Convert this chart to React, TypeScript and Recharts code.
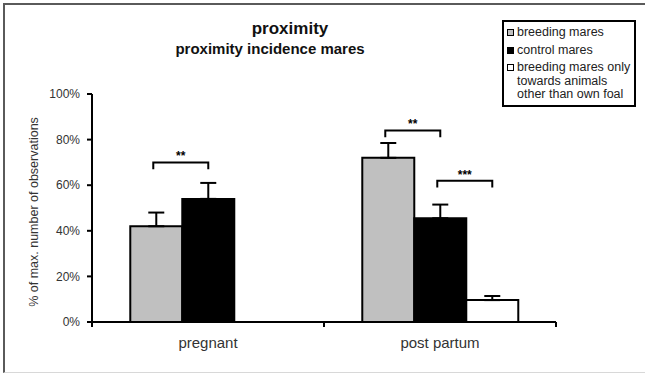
import React from 'react';
import { BarChart, Bar, XAxis, YAxis, ErrorBar, Legend, LabelList } from 'recharts';

const categories = ['pregnant', 'post partum'];
const breedingValues = [42, 72];
const breedingErrors = [6, 6.5];
const controlValues = [54, 45.5];
const controlErrors = [7, 6];
const otherValues: (number | null)[] = [null, 9.6];
const otherErrors: (number | null)[] = [null, 1.8];
const yTicks = [0, 20, 40, 60, 80, 100];

// significance brackets: category, left series of the compared pair, level (%), label
const bracketCategory = ['pregnant', 'post partum', 'post partum'];
const bracketSeries = ['breeding', 'breeding', 'control'];
const bracketLevel = [70, 84, 62];
const bracketLabel = ['**', '**', '***'];

const seriesNames = ['breeding mares', 'control mares', 'breeding mares only towards animals other than own foal'];
const legendLines = [['breeding mares'], ['control mares'], ['breeding mares only', 'towards animals', 'other than own foal']];
const seriesFills = ['#c0c0c0', '#000000', '#ffffff'];

const data = categories.map((c, i) => ({
  name: c,
  breeding: breedingValues[i],
  breedingErr: [0, breedingErrors[i]],
  control: controlValues[i],
  controlErr: [0, controlErrors[i]],
  other: otherValues[i],
  otherErr: otherErrors[i] == null ? null : [0, otherErrors[i] as number],
}));

const FONT = '"Liberation Sans", Arial, Helvetica, sans-serif';
const X_TICK_SIZE = 5;
const X_TICK_MARGIN = 10;

function makeBracket(series: string) {
  return (props: any) => {
    const { x, y, width, height, value, index } = props;
    const cat = categories[index];
    const items = bracketCategory
      .map((c, k) => ({ c, k }))
      .filter(({ c, k }) => c === cat && bracketSeries[k] === series);
    if (!items.length || value == null || !value) return null;
    const pxPerUnit = height / value;
    const base = y + height;
    return (
      <g>
        {items.map(({ k }) => {
          const ly = base - bracketLevel[k] * pxPerUnit;
          const x1 = x + width / 2 - 3;
          const x2 = x + width * 1.5;
          const drop = 3 * pxPerUnit;
          return (
            <g key={k}>
              <path d={`M${x1},${ly + drop} L${x1},${ly} L${x2},${ly} L${x2},${ly + drop}`} stroke="#000" strokeWidth={2} fill="none" />
              <text x={(x1 + x2) / 2} y={ly - 2} textAnchor="middle" fontFamily={FONT} fontSize={12} fontWeight="bold" fill="#000">
                {bracketLabel[k]}
              </text>
            </g>
          );
        })}
      </g>
    );
  };
}

const XTick = (props: any) => {
  const { x, y, payload, index, visibleTicksCount } = props;
  const half = payload?.offset ?? 0;
  const axisY = y - X_TICK_SIZE - X_TICK_MARGIN;
  const isLast = index === visibleTicksCount - 1;
  return (
    <g>
      <line x1={x - half} x2={x - half} y1={axisY} y2={axisY + X_TICK_SIZE} stroke="#000" strokeWidth={2} />
      {isLast && (
        <line x1={x + half} x2={x + half} y1={axisY} y2={axisY + X_TICK_SIZE} stroke="#000" strokeWidth={2} />
      )}
      <text x={x} y={y} dy="0.71em" textAnchor="middle" fontFamily={FONT} fontSize={15} fill="#333">
        {payload.value}
      </text>
    </g>
  );
};

const LegendBox = () => (
  <div
    style={{
      border: '2px solid #000',
      background: '#fff',
      padding: '4px 3px 3px 3px',
      fontFamily: FONT,
      fontSize: 12.5,
      color: '#222',
      boxSizing: 'border-box',
      width: 134,
    }}
  >
    {legendLines.map((lines, i) => (
      <div key={i} style={{ display: 'flex', alignItems: 'flex-start', marginBottom: i < legendLines.length - 1 ? 4 : 0 }} title={seriesNames[i]}>
        <span
          style={{
            display: 'inline-block',
            width: 7,
            height: 7,
            boxSizing: 'border-box',
            border: '1.5px solid #000',
            background: seriesFills[i],
            marginTop: 3,
            marginRight: 3,
            flex: '0 0 auto',
          }}
        />
        <span style={{ lineHeight: '13.5px', whiteSpace: 'nowrap' }}>
          {lines.map((l, j) => (
            <div key={j}>{l}</div>
          ))}
        </span>
      </div>
    ))}
  </div>
);

const YLabel = (props: any) => {
  const vb = props.viewBox || {};
  const cx = 34;
  const cy = vb.y + vb.height / 2 + 4;
  return (
    <text x={cx} y={cy} transform={`rotate(-90, ${cx}, ${cy})`} textAnchor="middle" dominantBaseline="central" fontFamily={FONT} fontSize={12.5} fill="#333">
      % of max. number of observations
    </text>
  );
};

export default function App() {
  return (
    <div style={{ position: 'absolute', left: 0, top: 0, width: 645, height: 373, background: '#fff' }}>
      <div
        style={{
          position: 'absolute',
          left: 3,
          top: 3,
          width: 640,
          height: 367,
          borderLeft: '2px solid #5a5a5a',
          borderTop: '2px solid #5a5a5a',
          borderBottom: '1px solid #d8d8d8',
        }}
      />
      <div style={{ position: 'absolute', left: 190, width: 200, top: 19, textAlign: 'center', fontFamily: FONT, fontWeight: 'bold', fontSize: 17, color: '#111' }}>
        proximity
      </div>
      <div style={{ position: 'absolute', left: 120, width: 300, top: 40, textAlign: 'center', fontFamily: FONT, fontWeight: 'bold', fontSize: 15, color: '#111' }}>
        proximity incidence mares
      </div>
      <div style={{ position: 'absolute', left: 0, top: 0 }}>
        <BarChart
          width={645}
          height={373}
          data={data}
          margin={{ top: 94, right: 89, bottom: 21, left: 0 }}
          barCategoryGap="16.5%"
          barGap={0}
        >
          <XAxis
            dataKey="name"
            height={30}
            axisLine={{ stroke: '#000', strokeWidth: 2 }}
            tickLine={false}
            tickSize={X_TICK_SIZE}
            tickMargin={X_TICK_MARGIN}
            tick={<XTick />}
          />
          <YAxis
            width={92}
            domain={[0, 100]}
            ticks={yTicks}
            tickFormatter={(v: number) => `${v}%`}
            tickSize={5}
            tickMargin={7}
            axisLine={{ stroke: '#000', strokeWidth: 2 }}
            tickLine={{ stroke: '#000', strokeWidth: 2 }}
            tick={{ fontFamily: FONT, fontSize: 12, fill: '#333' }}
            label={<YLabel />}
          />
          <Legend
            layout="horizontal"
            verticalAlign="middle"
            align="center"
            wrapperStyle={{ left: 502, top: 20, width: 134 }}
            content={() => <LegendBox />}
          />
          <Bar dataKey="breeding" name={seriesNames[0]} fill={seriesFills[0]} stroke="#000" strokeWidth={2} isAnimationActive={false}>
            <ErrorBar dataKey="breedingErr" width={8} stroke="#000" strokeWidth={2} direction="y" />
            <LabelList dataKey="breeding" content={makeBracket('breeding')} />
          </Bar>
          <Bar dataKey="control" name={seriesNames[1]} fill={seriesFills[1]} stroke="#000" strokeWidth={2} isAnimationActive={false}>
            <ErrorBar dataKey="controlErr" width={8} stroke="#000" strokeWidth={2} direction="y" />
            <LabelList dataKey="control" content={makeBracket('control')} />
          </Bar>
          <Bar dataKey="other" name={seriesNames[2]} fill={seriesFills[2]} stroke="#000" strokeWidth={2} isAnimationActive={false}>
            <ErrorBar dataKey="otherErr" width={8} stroke="#000" strokeWidth={2} direction="y" />
          </Bar>
        </BarChart>
      </div>
    </div>
  );
}
